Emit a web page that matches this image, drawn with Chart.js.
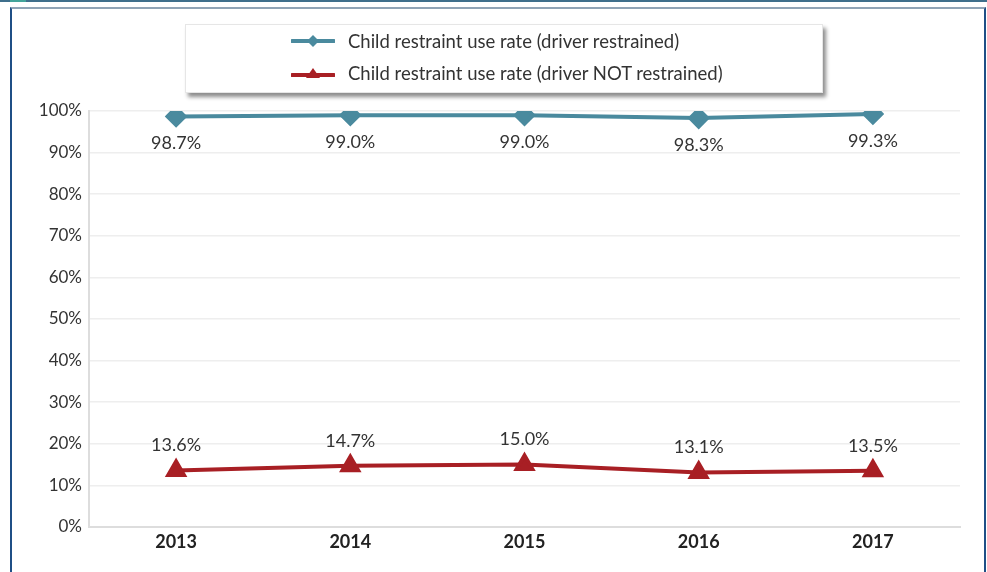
<!DOCTYPE html>
<html>
<head>
<meta charset="utf-8">
<script src="https://cdn.jsdelivr.net/npm/chart.js@4.4.0/dist/chart.umd.min.js"></script>
<style>
  html, body { margin: 0; padding: 0; background: #fff; }
  body { width: 987px; height: 572px; position: relative; overflow: hidden; font-family: Lato, 'Open Sans', sans-serif; }
  .topbar { position: absolute; left: 0; top: 0; width: 987px; height: 2px; background: #3f6f8c; }
  .topbar-accent { position: absolute; left: 10px; top: 0; width: 16px; height: 2px; background: #43a49a; }
  .frame { position: absolute; left: 10px; top: 7px; width: 972px; height: 580px;
           border-top: 2px solid #90a4b6; border-left: 2px solid #1f4f86; border-right: 2px solid #1f4f86; }
  #wrap { position: absolute; left: 0; top: 0; width: 987px; height: 572px; }
  .legend { position: absolute; left: 185px; top: 24px; width: 636px; height: 67px; background: #fff;
            border: 1px solid #e6e6e6; box-shadow: 3px 4px 4px rgba(0,0,0,.45); }
  .item { position: absolute; left: 105px; height: 22px; display: flex; align-items: center;
          font-size: 18.5px; color: #333; white-space: nowrap; }
  .item svg { margin-right: 13px; }
</style>
</head>
<body>
<div class="topbar"></div>
<div class="topbar-accent"></div>
<div class="frame"></div>
<div id="wrap"><canvas id="chart" width="987" height="572"></canvas></div>
<div class="legend">
  <div class="item" style="top:5px">
    <svg width="44" height="14"><line x1="1" y1="7" x2="43" y2="7" stroke="#4a8a9e" stroke-width="4" stroke-linecap="round"/><polygon points="22,1 28,7 22,13 16,7" fill="#4a8a9e"/></svg>
    <span>Child restraint use rate (driver restrained)</span>
  </div>
  <div class="item" style="top:37px">
    <svg width="44" height="14"><line x1="1" y1="9" x2="43" y2="9" stroke="#a81f24" stroke-width="4" stroke-linecap="round"/><polygon points="22,2 29,12 15,12" fill="#a81f24"/></svg>
    <span>Child restraint use rate (driver NOT restrained)</span>
  </div>
</div>
<script>
  const years = ['2013', '2014', '2015', '2016', '2017'];
  const restrained = [98.7, 99.0, 99.0, 98.3, 99.3];
  const notRestrained = [13.6, 14.7, 15.0, 13.1, 13.5];
  const yTicks = [0, 10, 20, 30, 40, 50, 60, 70, 80, 90, 100];

  const blue = '#4a8a9e';
  const red = '#a81f24';

  // data labels: blue below, red above
  const valueLabels = {
    id: 'valueLabels',
    afterDatasetsDraw(chart) {
      const ctx = chart.ctx;
      ctx.save();
      ctx.font = '18px Lato, sans-serif';
      ctx.fillStyle = '#333';
      ctx.textAlign = 'center';
      ctx.textBaseline = 'middle';
      chart.data.datasets.forEach((ds, i) => {
        chart.getDatasetMeta(i).data.forEach((pt, j) => {
          const off = ds.labelPos === 'below' ? 27 : -25;
          ctx.fillText(ds.data[j].toFixed(1) + '%', pt.x, pt.y + off);
        });
      });
      ctx.restore();
    }
  };

  new Chart(document.getElementById('chart'), {
    type: 'line',
    data: {
      labels: years,
      datasets: [
        {
          label: 'Child restraint use rate (driver restrained)',
          data: restrained,
          borderColor: blue, backgroundColor: blue,
          borderWidth: 4, pointStyle: 'rectRot', pointRadius: 8.5,
          tension: 0, labelPos: 'below'
        },
        {
          label: 'Child restraint use rate (driver NOT restrained)',
          data: notRestrained,
          borderColor: red, backgroundColor: red,
          borderWidth: 4, pointStyle: 'triangle', pointRadius: 9,
          tension: 0, labelPos: 'above'
        }
      ]
    },
    options: {
      responsive: false, animation: false,
      layout: { padding: { left: 0, top: 111, right: 27, bottom: 0 } },
      plugins: { legend: { display: false }, tooltip: { enabled: false } },
      scales: {
        x: {
          offset: true,
          grid: { display: false, drawTicks: false },
          border: { color: '#dddddd', width: 2 },
          ticks: { color: '#222', font: { family: 'Lato, sans-serif', size: 18, weight: 'bold' }, padding: 4 },
          afterFit: s => { s.height = 45; }
        },
        y: {
          min: 0, max: 100,
          afterBuildTicks: s => { s.ticks = yTicks.map(v => ({ value: v })); },
          grid: { color: '#eeeeee', lineWidth: 1.5, drawTicks: false },
          border: { color: '#dddddd', width: 2 },
          ticks: { color: '#333', font: { family: 'Lato, sans-serif', size: 17 }, padding: 7,
                   callback: v => v + '%' },
          afterFit: s => { s.width = 89; }
        }
      }
    },
    plugins: [valueLabels]
  });
</script>
</body>
</html>
